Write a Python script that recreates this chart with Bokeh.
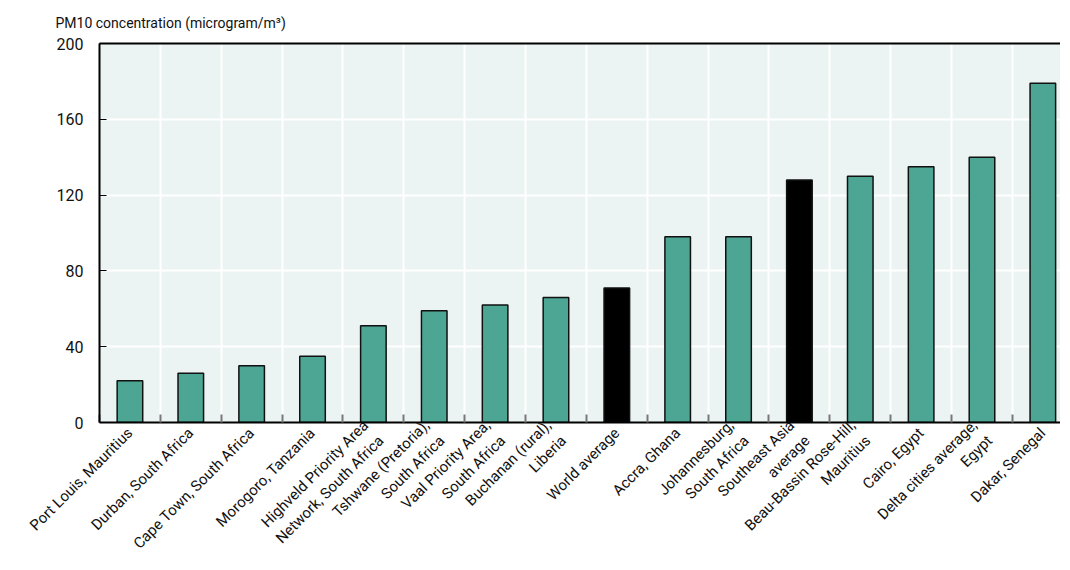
from bokeh.plotting import figure
from bokeh.models import Range1d, FixedTicker, LinearAxis, Title, ColumnDataSource
from bokeh.embed import file_html
from bokeh.resources import INLINE
import math

categories = [
    "Port Louis, Mauritius",
    "Durban, South Africa",
    "Cape Town, South Africa",
    "Morogoro, Tanzania",
    "Highveld Priority Area\nNetwork, South Africa",
    "Tshwane (Pretoria),\nSouth Africa",
    "Vaal Priority Area,\nSouth Africa",
    "Buchanan (rural),\nLiberia",
    "World average",
    "Accra, Ghana",
    "Johannesburg,\nSouth Africa",
    "Southeast Asia\naverage",
    "Beau-Bassin Rose-Hill,\nMauritius",
    "Cairo, Egypt",
    "Delta cities average,\nEgypt",
    "Dakar, Senegal",
]
pm10 = [22, 26, 30, 35, 51, 59, 62, 66, 71, 98, 98, 128, 130, 135, 140, 179]
is_benchmark = [False] * 8 + [True] + [False] * 2 + [True] + [False] * 4
y_ticks = [0, 40, 80, 120, 160, 200]

FONT = "Roboto"
TEAL = "#4DA594"
BG = "#EBF4F2"

n = len(categories)
xs = [i + 0.5 for i in range(n)]
colors = ["#000000" if b else TEAL for b in is_benchmark]
src = ColumnDataSource(dict(x=xs, top=pm10, color=colors))

p = figure(width=1060, height=566, output_backend="svg", toolbar_location=None,
           x_range=Range1d(0, 15.79), y_range=Range1d(0, 200),
           x_axis_location="below", y_axis_location="left",
           min_border_left=99, min_border_right=0, min_border_top=43,
           min_border_bottom=10)
p.background_fill_color = BG
p.border_fill_color = "white"
p.outline_line_color = None

p.vbar(x="x", top="top", width=0.42, source=src, fill_color="color",
       line_color="#111111", line_width=1.5)

# grids
p.xgrid.ticker = FixedTicker(ticks=list(range(1, n)))
p.xgrid.grid_line_color = "white"
p.xgrid.grid_line_width = 2
p.ygrid.ticker = FixedTicker(ticks=y_ticks)
p.ygrid.grid_line_color = "white"
p.ygrid.grid_line_width = 2

# x axis
xa = p.xaxis[0]
xa.ticker = FixedTicker(ticks=xs, minor_ticks=list(range(0, n + 1)))
xa.major_label_overrides = {x: c for x, c in zip(xs, categories)}
xa.major_label_orientation = math.pi / 4
xa.major_tick_in = 0
xa.major_tick_out = 0
xa.minor_tick_in = 8
xa.minor_tick_out = 0
xa.minor_tick_line_color = "#777777"
xa.minor_tick_line_width = 2
xa.axis_line_width = 2
xa.axis_line_color = "black"
xa.major_label_text_font = FONT
xa.major_label_text_font_size = "15px"
xa.major_label_text_color = "#111111"
xa.major_label_standoff = 8

# y axis
ya = p.yaxis[0]
ya.ticker = FixedTicker(ticks=y_ticks)
ya.major_tick_in = 7
ya.major_tick_out = 0
ya.minor_tick_in = 0
ya.minor_tick_out = 0
ya.major_tick_line_color = "black"
ya.axis_line_width = 2
ya.axis_line_color = "black"
ya.major_label_text_font = FONT
ya.major_label_text_font_size = "16px"
ya.major_label_text_color = "#111111"
ya.major_label_standoff = 16

# top border line
top = LinearAxis(ticker=FixedTicker(ticks=[]), axis_line_width=2,
                 axis_line_color="black", major_tick_in=0, major_tick_out=0,
                 minor_tick_in=0, minor_tick_out=0,
                 major_label_text_font_size="0px")
p.add_layout(top, "above")

p.add_layout(Title(text="PM10 concentration (microgram/m³)", align="left",
                   offset=-44, text_font=FONT, text_font_size="14px",
                   text_font_style="normal", text_color="#111111",
                   standoff=25), "above")

open("out.html", "w").write(file_html(p, INLINE))
